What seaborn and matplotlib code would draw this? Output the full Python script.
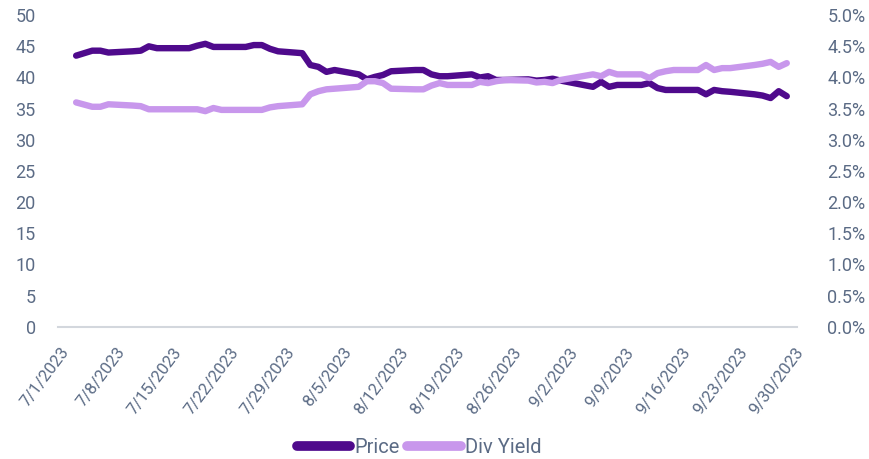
import pandas as pd
import matplotlib.pyplot as plt
import matplotlib.ticker as mticker
import matplotlib.dates as mdates
import seaborn as sns

# =====================
# Data (trading days, Jul-Sep 2023)
# =====================
dates = ["2023-07-03", "2023-07-05", "2023-07-06", "2023-07-07",
         "2023-07-10", "2023-07-11", "2023-07-12", "2023-07-13", "2023-07-14",
         "2023-07-17", "2023-07-18", "2023-07-19", "2023-07-20", "2023-07-21",
         "2023-07-24", "2023-07-25", "2023-07-26", "2023-07-27", "2023-07-28",
         "2023-07-31", "2023-08-01", "2023-08-02", "2023-08-03", "2023-08-04",
         "2023-08-07", "2023-08-08", "2023-08-09", "2023-08-10", "2023-08-11",
         "2023-08-14", "2023-08-15", "2023-08-16", "2023-08-17", "2023-08-18",
         "2023-08-21", "2023-08-22", "2023-08-23", "2023-08-24", "2023-08-25",
         "2023-08-28", "2023-08-29", "2023-08-30", "2023-08-31", "2023-09-01",
         "2023-09-05", "2023-09-06", "2023-09-07", "2023-09-08",
         "2023-09-11", "2023-09-12", "2023-09-13", "2023-09-14", "2023-09-15",
         "2023-09-18", "2023-09-19", "2023-09-20", "2023-09-21", "2023-09-22",
         "2023-09-25", "2023-09-26", "2023-09-27", "2023-09-28", "2023-09-29"]

price = [43.5, 44.3, 44.3, 44.0,
         44.2, 44.3, 45.0, 44.7, 44.7,
         44.7, 45.1, 45.4, 44.9, 44.9,
         44.9, 45.2, 45.2, 44.6, 44.2,
         43.9, 42.0, 41.7, 40.9, 41.2,
         40.5, 39.7, 40.1, 40.4, 41.0,
         41.2, 41.2, 40.5, 40.2, 40.2,
         40.5, 40.0, 40.2, 39.6, 39.6,
         39.7, 39.5, 39.6, 39.8, 39.5,
         38.5, 39.3, 38.5, 38.8,
         38.8, 39.1, 38.3, 38.0, 38.0,
         38.0, 37.3, 38.0, 37.8, 37.7,
         37.3, 37.1, 36.7, 37.8, 37.0]

div_yield = [3.60, 3.53, 3.53, 3.57,
             3.55, 3.54, 3.49, 3.49, 3.49,
             3.49, 3.49, 3.46, 3.51, 3.48,
             3.48, 3.48, 3.48, 3.52, 3.54,
             3.57, 3.73, 3.78, 3.81, 3.82,
             3.85, 3.94, 3.94, 3.91, 3.82,
             3.81, 3.81, 3.87, 3.91, 3.88,
             3.88, 3.93, 3.91, 3.94, 3.96,
             3.95, 3.92, 3.93, 3.91, 3.96,
             4.05, 4.02, 4.09, 4.05,
             4.05, 3.99, 4.07, 4.10, 4.12,
             4.12, 4.20, 4.12, 4.15, 4.15,
             4.20, 4.22, 4.25, 4.17, 4.23]

tick_dates = pd.date_range("2023-07-01", "2023-09-30", freq="7D")

df = pd.DataFrame({"Date": pd.to_datetime(dates), "Price": price, "Div Yield": div_yield})

# =====================
# Style
# =====================
sns.set_style("white")
plt.rcParams["font.family"] = ["Roboto", "DejaVu Sans"]
label_color = "#5b6b85"
price_color = "#4f0a8c"
yield_color = "#c897ec"

fig, ax = plt.subplots(figsize=(8.69, 4.59), dpi=100)
fig.subplots_adjust(left=0.0667, right=0.917, top=0.967, bottom=0.288)
ax2 = ax.twinx()

sns.lineplot(data=df, x="Date", y="Price", ax=ax, color=price_color, linewidth=4.6,
             solid_capstyle="round", solid_joinstyle="round", label="Price", legend=False)
sns.lineplot(data=df, x="Date", y="Div Yield", ax=ax2, color=yield_color, linewidth=4.6,
             solid_capstyle="round", solid_joinstyle="round", label="Div Yield", legend=False)

ax.set_ylim(0, 50)
ax.set_yticks(range(0, 51, 5))
ax2.set_ylim(0, 5)
ax2.set_yticks([i * 0.5 for i in range(11)])
ax2.yaxis.set_major_formatter(mticker.FuncFormatter(lambda v, p: f"{v:.1f}%"))

ax.set_xlim(tick_dates[0] - pd.Timedelta(hours=6), tick_dates[-1] + pd.Timedelta(hours=6))
ax.set_xticks(tick_dates)
ax.xaxis.set_major_formatter(mticker.FuncFormatter(
    lambda v, p: f"{mdates.num2date(v).month}/{mdates.num2date(v).day}/{mdates.num2date(v).year}"))

for a in (ax, ax2):
    a.set_xlabel("")
    a.set_ylabel("")
    for s in ("top", "left", "right", "bottom"):
        a.spines[s].set_visible(False)
    a.grid(False)

ax.spines["bottom"].set_visible(True)
ax.spines["bottom"].set_color("#d3d7dd")
ax.spines["bottom"].set_linewidth(1.5)

ax.tick_params(axis="y", length=0, pad=16, labelsize=13, labelcolor=label_color)
ax2.tick_params(axis="y", length=0, pad=22, labelsize=13, labelcolor=label_color)
ax.tick_params(axis="x", length=4, width=1.5, color="#d3d7dd", pad=9,
               labelsize=12, labelcolor=label_color)
for lbl in ax.get_xticklabels():
    lbl.set_rotation(53)
    lbl.set_ha("right")
    lbl.set_va("top")
    lbl.set_rotation_mode("anchor")

h1, l1 = ax.get_legend_handles_labels()
h2, l2 = ax2.get_legend_handles_labels()
leg = fig.legend(h1 + h2, l1 + l2, loc="center", bbox_to_anchor=(419 / 869, 0.026),
                 ncol=2, frameon=False, fontsize=14.5, handlelength=2.65,
                 handletextpad=0.2, columnspacing=0.4)
for line in leg.get_lines():
    line.set_linewidth(7)
for t in leg.get_texts():
    t.set_color(label_color)

plt.savefig("out.png", dpi=100)
plt.close()
